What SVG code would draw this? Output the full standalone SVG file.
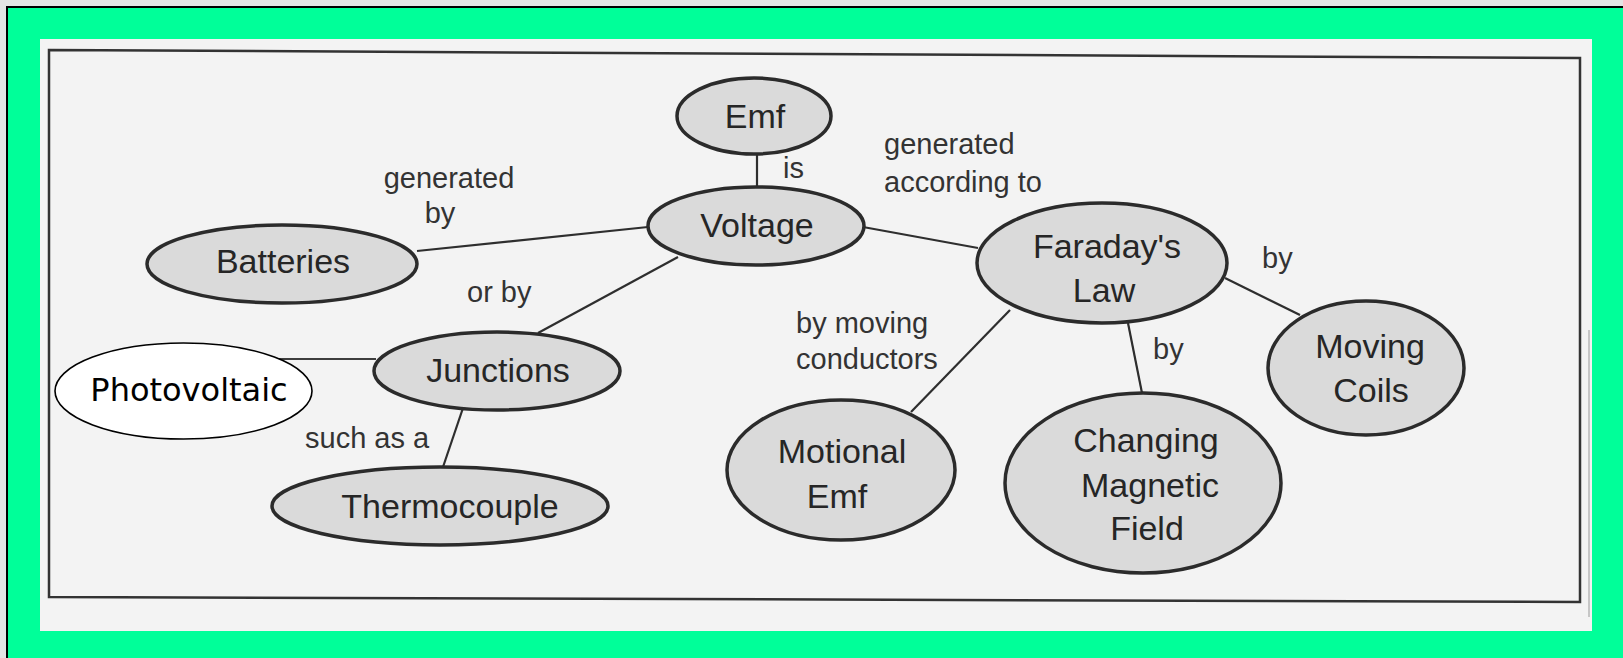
<svg xmlns="http://www.w3.org/2000/svg" width="1623" height="658" viewBox="0 0 1623 658">
<style>
.node ellipse{fill:#dadada;stroke:#2b2b2b;stroke-width:3.5}
.nt{font-family:"Liberation Sans",Arial,sans-serif;font-size:34px;fill:#262626;text-anchor:middle}
.lt{font-family:"Liberation Sans",Arial,sans-serif;font-size:29px;fill:#333333}
.c{text-anchor:middle}
#connectors line{stroke:#2e2e2e;stroke-width:2.2}
#connectors line.thin{stroke:#000000;stroke-width:1.6}
</style>
<rect width="1623" height="658" fill="#00ff99"/>
<rect x="0" y="0" width="1623" height="6" fill="#e4e4e4"/>
<rect x="0" y="0" width="6" height="658" fill="#e4e4e4"/>
<path d="M7 658V7H1623" fill="none" stroke="#000" stroke-width="2"/>
<rect x="40" y="39" width="1552" height="592" fill="#f3f3f3"/>
<path d="M49 50L1580 58L1580 602L49 597Z" fill="none" stroke="#333" stroke-width="2.5"/>
<line x1="1589" y1="330" x2="1589" y2="617" stroke="#999" stroke-width="1"/>
<g id="connectors">
<line x1="757" y1="154" x2="757" y2="188"/>
<line x1="417" y1="251" x2="648" y2="227"/>
<line x1="678" y1="257" x2="538" y2="333"/>
<line x1="863" y1="227" x2="978" y2="248"/>
<line x1="463" y1="408" x2="443" y2="467"/>
<line class="thin" x1="277" y1="359" x2="376" y2="359"/>
<line x1="1010" y1="310" x2="911" y2="412"/>
<line x1="1128" y1="323" x2="1142" y2="393"/>
<line x1="1225" y1="278" x2="1300" y2="315"/>
</g>
<g id="labels">
<text class="lt" x="783" y="178">is</text>
<text class="lt" x="884" y="154">generated</text>
<text class="lt" x="884" y="192">according to</text>
<text class="lt c" x="449" y="188">generated</text>
<text class="lt c" x="440" y="223">by</text>
<text class="lt" x="467" y="302">or by</text>
<text class="lt" x="1262" y="268">by</text>
<text class="lt" x="1153" y="359">by</text>
<text class="lt" x="796" y="333">by moving</text>
<text class="lt" x="796" y="369">conductors</text>
<text class="lt" x="305" y="448">such as a</text>
</g>
<g id="emf" class="node"><ellipse cx="754" cy="116" rx="77" ry="38"/><text class="nt" x="755" y="128">Emf</text></g>
<g id="voltage" class="node"><ellipse cx="756" cy="226" rx="108" ry="39"/><text class="nt" x="757" y="237">Voltage</text></g>
<g id="faraday" class="node"><ellipse cx="1102" cy="263" rx="125" ry="60"/><text class="nt" x="1107" y="258">Faraday's</text><text class="nt" x="1104" y="302">Law</text></g>
<g id="batteries" class="node"><ellipse cx="282" cy="264" rx="135" ry="39"/><text class="nt" x="283" y="273">Batteries</text></g>
<g id="junctions" class="node"><ellipse cx="497" cy="371" rx="123" ry="39"/><text class="nt" x="498" y="382">Junctions</text></g>
<g id="thermocouple" class="node"><ellipse cx="440" cy="506" rx="168" ry="39"/><text class="nt" x="450" y="518">Thermocouple</text></g>
<g id="motional" class="node"><ellipse cx="841" cy="470" rx="114" ry="70"/><text class="nt" x="842" y="463">Motional</text><text class="nt" x="837" y="508">Emf</text></g>
<g id="changing" class="node"><ellipse cx="1143" cy="483" rx="138" ry="90"/><text class="nt" x="1146" y="452">Changing</text><text class="nt" x="1150" y="497">Magnetic</text><text class="nt" x="1147" y="540">Field</text></g>
<g id="moving" class="node"><ellipse cx="1366" cy="368" rx="98" ry="67"/><text class="nt" x="1370" y="358">Moving</text><text class="nt" x="1371" y="402">Coils</text></g>
<g id="photovoltaic"><ellipse cx="183.5" cy="391" rx="128.5" ry="48" fill="#ffffff" stroke="#000000" stroke-width="1.6"/><text x="189" y="401" font-family="'DejaVu Sans',Verdana,sans-serif" font-size="32" fill="#000000" text-anchor="middle">Photovoltaic</text></g>
</svg>
